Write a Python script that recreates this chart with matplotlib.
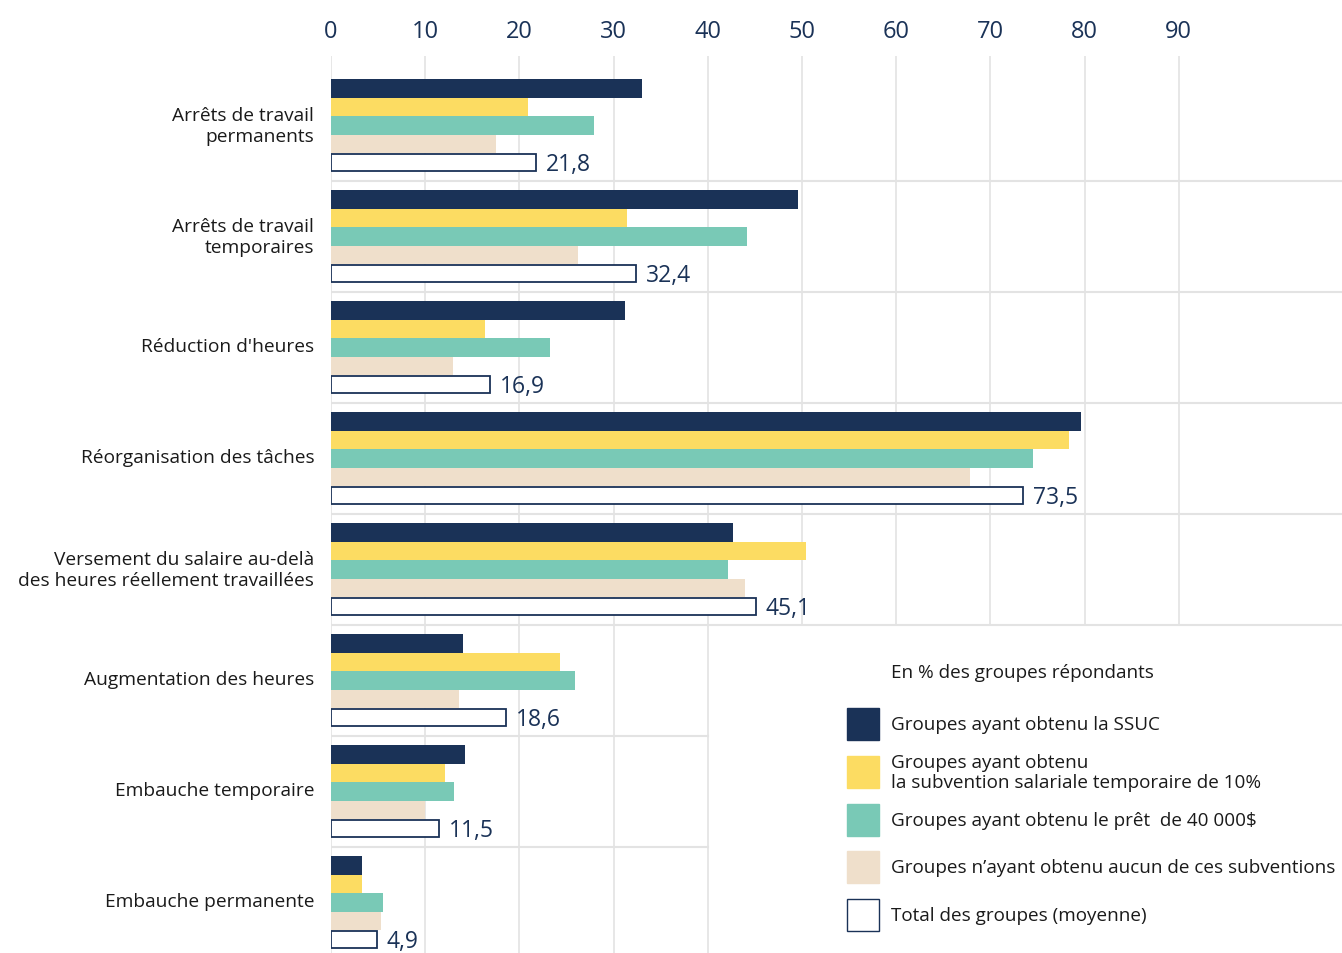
import matplotlib.pyplot as plt
from matplotlib.patches import Rectangle

# --- data ---
categories = [
    "Arrêts de travail\npermanents",
    "Arrêts de travail\ntemporaires",
    "Réduction d'heures",
    "Réorganisation des tâches",
    "Versement du salaire au-delà\ndes heures réellement travaillées",
    "Augmentation des heures",
    "Embauche temporaire",
    "Embauche permanente",
]
ssuc = [33.0, 49.6, 31.2, 79.6, 42.7, 14.0, 14.2, 3.3]
subv_10 = [20.9, 31.4, 16.4, 78.3, 50.4, 24.3, 12.1, 3.3]
pret_40k = [27.9, 44.2, 23.3, 74.5, 42.1, 25.9, 13.1, 5.5]
aucun = [17.5, 26.2, 13.0, 67.8, 43.9, 13.6, 10.0, 5.3]
total = [21.8, 32.4, 16.9, 73.5, 45.1, 18.6, 11.5, 4.9]
total_labels = ["21,8", "32,4", "16,9", "73,5", "45,1", "18,6", "11,5", "4,9"]

series_names = [
    "Groupes ayant obtenu la SSUC",
    "Groupes ayant obtenu\nla subvention salariale temporaire de 10%",
    "Groupes ayant obtenu le prêt  de 40 000$",
    "Groupes n’ayant obtenu aucun de ces subventions",
    "Total des groupes (moyenne)",
]
xticks = [0, 10, 20, 30, 40, 50, 60, 70, 80, 90]

NAVY = "#1a3257"
COLORS = [NAVY, "#fcdc62", "#79c9b6", "#efdfcb", "white"]
GRID = "#e3e3e3"
TXT = "#1a1a1a"

plt.rcParams['font.family'] = ['Open Sans', 'DejaVu Sans']

fig = plt.figure(figsize=(13.42, 9.54), dpi=100)
W, H = 1342, 954
ax = fig.add_axes([331 / W, 0, 1 - 331 / W, (954 - 57) / H])

bar_h = 1 / 6
all_series = [ssuc, subv_10, pret_40k, aucun, total]
for k, vals in enumerate(all_series):
    ys = [i + (k - 2) * bar_h for i in range(len(categories))]
    if k < 4:
        ax.barh(ys, vals, height=bar_h, color=COLORS[k], linewidth=0, zorder=3)
    else:
        ax.barh(ys, vals, height=bar_h * 0.92, color="white", edgecolor=NAVY,
                linewidth=1.3, zorder=3)
        for y, v, lab in zip(ys, vals, total_labels):
            ax.text(v + 1.0, y + 0.01, lab, va="center", ha="left",
                    fontsize=16.5, color=NAVY, zorder=4)

ax.set_xlim(0, (W - 331) / 9.42)
ax.set_ylim(7.455, -0.626)

# vertical grid: right part stops where the legend starts
for x in xticks:
    if x <= 40:
        ax.axvline(x, color=GRID, lw=1.2, zorder=1)
    else:
        ax.plot([x, x], [-0.626, 4.5], color=GRID, lw=1.2, zorder=1)

# horizontal separators between categories
for i in range(len(categories) - 1):
    if i < 5:
        ax.axhline(i + 0.5, color=GRID, lw=1.5, zorder=1)
    else:
        ax.plot([0, 40], [i + 0.5, i + 0.5], color=GRID, lw=1.5, zorder=1)

ax.xaxis.tick_top()
ax.set_xticks(xticks)
ax.set_xticklabels([str(x) for x in xticks], fontsize=17, color=NAVY)
ax.tick_params(axis="x", length=0, pad=9)
ax.set_yticks([i - 0.03 for i in range(len(categories))])
ax.set_yticklabels(categories, fontsize=13.8, color=TXT, linespacing=1.2)
ax.tick_params(axis="y", length=0, pad=12)
for s in ax.spines.values():
    s.set_visible(False)

# legend drawn by hand
fig.text(891 / W, 1 - 673 / H, "En % des groupes répondants", fontsize=13.6,
         color=TXT, va="center", ha="left")
leg_y = [725, 773, 821, 868, 916]
for name, col, y in zip(series_names, COLORS, leg_y):
    ec = NAVY if col == "white" else col
    fig.add_artist(Rectangle((847 / W, 1 - (y + 16) / H), 32 / W, 32 / H,
                             facecolor=col, edgecolor=ec, lw=1.0,
                             transform=fig.transFigure))
    fig.text(891 / W, 1 - y / H, name, fontsize=13.6, color=TXT,
             va="center", ha="left", linespacing=1.2)

fig.savefig("out.png", dpi=100)
